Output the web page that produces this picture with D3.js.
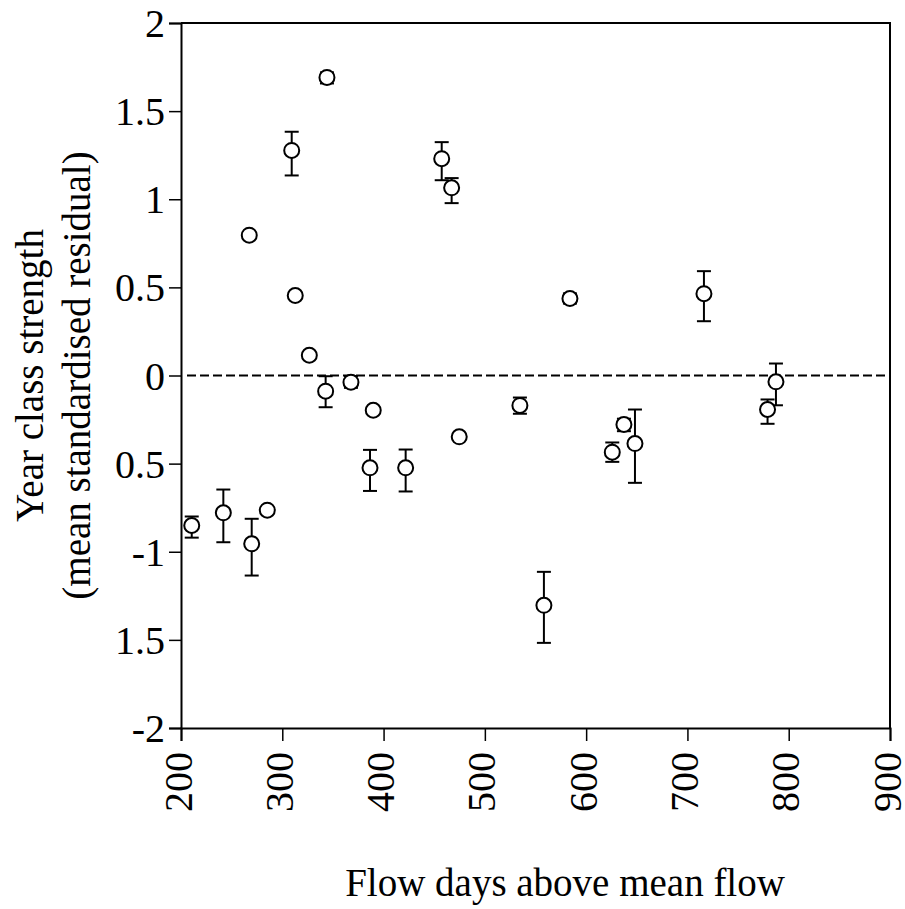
<!DOCTYPE html>
<html><head><meta charset="utf-8">
<script src="https://cdn.jsdelivr.net/npm/d3@7"></script>
<style>
html,body{margin:0;padding:0;background:#fff;}
text{font-family:"Liberation Serif","Times New Roman",serif;fill:#000;}
</style></head>
<body><svg id="chart" width="905" height="909"></svg>
<script>
// Data
const flowDays = [210.6, 241.8, 269.8, 285.2, 267.4, 309.3, 312.8, 326.7, 344.1, 342.8, 367.8, 389.8, 386.6, 421.8, 457.4, 467.2, 474.7, 534.6, 558.3, 584.0, 625.8, 637.3, 648.2, 716.3, 779.1, 787.4];
const strength = [-0.851, -0.779, -0.955, -0.764, 0.796, 1.277, 0.454, 0.115, 1.691, -0.089, -0.038, -0.197, -0.524, -0.524, 1.230, 1.065, -0.348, -0.170, -1.304, 0.437, -0.435, -0.278, -0.386, 0.464, -0.193, -0.036];
const errHigh = [-0.80, -0.647, -0.813, null, null, 1.383, null, null, 1.72, -0.004, -0.003, null, -0.422, -0.420, 1.324, 1.12, null, -0.125, -1.114, 0.466, -0.38, -0.245, -0.193, 0.592, -0.136, 0.068];
const errLow  = [-0.92, -0.946, -1.135, null, null, 1.135, null, null, 1.657, -0.18, -0.07, null, -0.655, -0.658, 1.108, 0.978, null, -0.217, -1.517, 0.408, -0.49, -0.316, -0.609, 0.308, -0.274, -0.169];
const xTicks = [200, 300, 400, 500, 600, 700, 800, 900];
const yTicks = [-2, -1.5, -1, -0.5, 0, 0.5, 1, 1.5, 2];
const yTickLabels = ["-2", "1.5", "-1", "0.5", "0", "0.5", "1", "1.5", "2"];
const xTitle = "Flow days above mean flow";
const yTitle1 = "Year class strength";
const yTitle2 = "(mean standardised residual)";

const svg = d3.select("#chart");
const L = 181, R = 890, T = 23, B = 728;
const x = d3.scaleLinear().domain([200, 900]).range([L, R]);
const y = d3.scaleLinear().domain([-2, 2]).range([B, T]);

// frame (top and right)
svg.append("path")
  .attr("d", `M${L},${T}H${R}V${B}`)
  .attr("fill", "none").attr("stroke", "#000").attr("stroke-width", 2);

// y axis
const yAxis = svg.append("g").attr("transform", `translate(${L},0)`)
  .call(d3.axisLeft(y).tickValues(yTicks).tickSize(12).tickPadding(4)
    .tickFormat((d, i) => yTickLabels[i]));
yAxis.select(".domain").attr("stroke-width", 2);
yAxis.selectAll(".tick line").attr("stroke-width", 1.5);
yAxis.selectAll("text").attr("font-size", 40).attr("font-family", "Liberation Serif").attr("dy", "0.34em");

// x axis
const xAxis = svg.append("g").attr("transform", `translate(0,${B})`)
  .call(d3.axisBottom(x).tickValues(xTicks).tickSize(13).tickFormat(d3.format("d")));
xAxis.select(".domain").attr("stroke-width", 2);
xAxis.selectAll(".tick line").attr("stroke-width", 1.5);
xAxis.selectAll("text")
  .attr("font-size", 40).attr("font-family", "Liberation Serif")
  .attr("text-anchor", "end")
  .attr("transform", "rotate(-90)")
  .attr("x", -24).attr("y", 0).attr("dy", "0.25em");

// zero reference line
svg.append("line")
  .attr("x1", L + 6).attr("x2", R).attr("y1", y(0)).attr("y2", y(0))
  .attr("stroke", "#000").attr("stroke-width", 2).attr("stroke-dasharray", "9,4");

// error bars
const pts = flowDays.map((d, i) => ({x: d, y: strength[i], hi: errHigh[i], lo: errLow[i]}));
const eb = svg.append("g").attr("stroke", "#000").attr("stroke-width", 2).attr("fill", "none");
pts.filter(p => p.hi !== null).forEach(p => {
  const cx = x(p.x);
  eb.append("line").attr("x1", cx).attr("x2", cx).attr("y1", y(p.hi)).attr("y2", y(p.lo));
  eb.append("line").attr("x1", cx - 7).attr("x2", cx + 7).attr("y1", y(p.hi)).attr("y2", y(p.hi));
  eb.append("line").attr("x1", cx - 7).attr("x2", cx + 7).attr("y1", y(p.lo)).attr("y2", y(p.lo));
});

// points
svg.append("g").selectAll("circle").data(pts).join("circle")
  .attr("cx", d => x(d.x)).attr("cy", d => y(d.y)).attr("r", 7.5)
  .attr("fill", "#fff").attr("stroke", "#000").attr("stroke-width", 2);

// titles
svg.append("text").attr("x", 565).attr("y", 896)
  .attr("text-anchor", "middle").attr("font-size", 39).text(xTitle);
const yt = svg.append("text").attr("transform", `translate(0,${(T + B) / 2}) rotate(-90)`)
  .attr("text-anchor", "middle").attr("font-size", 39);
yt.append("tspan").attr("x", 0).attr("y", 43).text(yTitle1);
yt.append("tspan").attr("x", 0).attr("y", 90).text(yTitle2);
</script></body></html>
